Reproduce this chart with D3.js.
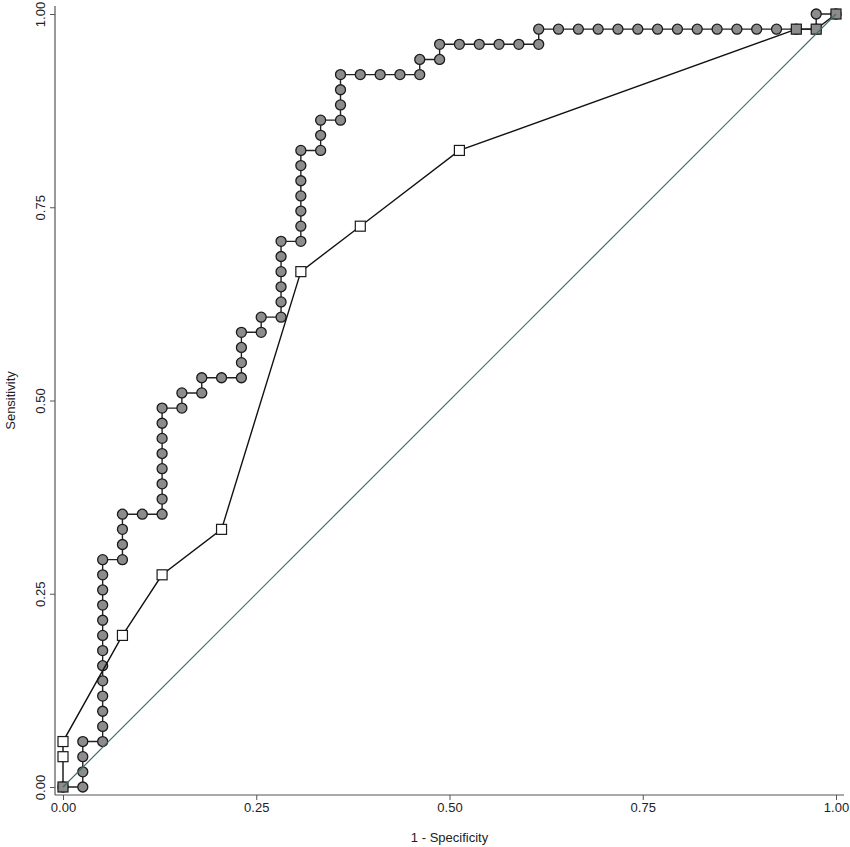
<!DOCTYPE html>
<html>
<head>
<meta charset="utf-8">
<script src="https://cdn.jsdelivr.net/npm/d3@7"></script>
<style>
  body { margin: 0; background: #fff; }
  svg { display: block; font-family: "Liberation Sans", Arial, sans-serif; }
</style>
</head>
<body>
<div id="chart"></div>
<script>
// ROC curve 1: stepwise empirical curve (grey circles)
const stepFpr = [
  0, .0256, .0256, .0256, .0256,
  .0513, .0513, .0513, .0513, .0513, .0513, .0513, .0513, .0513, .0513, .0513, .0513, .0513,
  .0769, .0769, .0769, .0769, .1026,
  .1282, .1282, .1282, .1282, .1282, .1282, .1282, .1282,
  .1538, .1538, .1795, .1795, .2051,
  .2308, .2308, .2308, .2308, .2564, .2564,
  .2821, .2821, .2821, .2821, .2821, .2821,
  .3077, .3077, .3077, .3077, .3077, .3077, .3077,
  .3333, .3333, .3333, .3590, .3590, .3590, .3590,
  .3846, .4103, .4359, .4615, .4615, .4872, .4872,
  .5128, .5385, .5641, .5897, .6154, .6154,
  .6410, .6667, .6923, .7179, .7436, .7692, .7949, .8205, .8462, .8718, .8974, .9231, .9487,
  .9744, .9744, 1
];
const stepTpr = [
  0, 0, .0196, .0392, .0588,
  .0588, .0784, .0980, .1176, .1373, .1569, .1765, .1961, .2157, .2353, .2549, .2745, .2941,
  .2941, .3137, .3333, .3529, .3529,
  .3529, .3725, .3922, .4118, .4314, .4510, .4706, .4902,
  .4902, .5098, .5098, .5294, .5294,
  .5294, .5490, .5686, .5882, .5882, .6078,
  .6078, .6275, .6471, .6667, .6863, .7059,
  .7059, .7255, .7451, .7647, .7843, .8039, .8235,
  .8235, .8431, .8627, .8627, .8824, .9020, .9216,
  .9216, .9216, .9216, .9216, .9412, .9412, .9608,
  .9608, .9608, .9608, .9608, .9608, .9804,
  .9804, .9804, .9804, .9804, .9804, .9804, .9804, .9804, .9804, .9804, .9804, .9804, .9804,
  .9804, 1, 1
];

// ROC curve 2: coarse curve (white squares)
const coarseFpr = [0, 0, 0, .0769, .1282, .2051, .3077, .3846, .5128, .9487, .9744, 1];
const coarseTpr = [0, .0392, .0588, .1961, .2745, .3333, .6667, .7255, .8235, .9804, .9804, 1];

const tickValues = [0, 0.25, 0.5, 0.75, 1];
const xTitle = '1 - Specificity';
const yTitle = 'Sensitivity';

const width = 850, height = 847;
const plot = { left: 63, right: 836, top: 14, bottom: 787 };
const pad = 8;

const svg = d3.select('#chart').append('svg')
    .attr('width', width)
    .attr('height', height);

const x = d3.scaleLinear().domain([0, 1]).range([plot.left, plot.right]);
const y = d3.scaleLinear().domain([0, 1]).range([plot.bottom, plot.top]);

const stepPts = stepFpr.map((v, i) => [v, stepTpr[i]]);
const coarsePts = coarseFpr.map((v, i) => [v, coarseTpr[i]]);

// axes
const axisColor = '#555';
const xAxis = svg.append('g')
    .attr('transform', `translate(0,${plot.bottom + pad})`)
    .call(d3.axisBottom(x).tickValues(tickValues).tickFormat(d3.format('.2f')).tickSize(5).tickSizeOuter(0));
xAxis.select('.domain').attr('d', `M${plot.left - pad},0H${plot.right + pad}`);

const yAxis = svg.append('g')
    .attr('transform', `translate(${plot.left - pad},0)`)
    .call(d3.axisLeft(y).tickValues(tickValues).tickFormat(d3.format('.2f')).tickSize(5).tickSizeOuter(0));
yAxis.select('.domain').attr('d', `M0,${plot.top - pad}V${plot.bottom + pad}`);

svg.selectAll('.domain').attr('stroke', axisColor).attr('stroke-width', 1.2);
svg.selectAll('.tick line').attr('stroke', axisColor).attr('stroke-width', 1);
svg.selectAll('.tick text')
    .attr('fill', '#222')
    .style('font-size', '13px')
    .style('font-family', '"Liberation Sans", Arial, sans-serif');
xAxis.selectAll('.tick text').attr('y', 8).attr('dy', '0.71em');
yAxis.selectAll('.tick text')
    .attr('x', null).attr('dy', null)
    .attr('text-anchor', 'middle')
    .attr('transform', 'translate(-10,0) rotate(-90)');

// axis titles
svg.append('text')
    .attr('x', (plot.left + plot.right) / 2)
    .attr('y', 842)
    .attr('text-anchor', 'middle')
    .style('font-size', '13px')
    .style('fill', '#222')
    .text(xTitle);
svg.append('text')
    .attr('transform', `translate(15,${(plot.top + plot.bottom) / 2}) rotate(-90)`)
    .attr('text-anchor', 'middle')
    .style('font-size', '13px')
    .style('fill', '#222')
    .text(yTitle);

const line = d3.line().x(d => x(d[0])).y(d => y(d[1]));

// stepwise curve
svg.append('path')
    .datum(stepPts)
    .attr('fill', 'none')
    .attr('stroke', '#222')
    .attr('stroke-width', 1.4)
    .attr('d', line);

svg.append('g').selectAll('circle')
    .data(stepPts)
    .join('circle')
    .attr('cx', d => x(d[0]))
    .attr('cy', d => y(d[1]))
    .attr('r', 5)
    .attr('fill', '#8c8c8c')
    .attr('stroke', '#1a1a1a')
    .attr('stroke-width', 1.3);

// coarse curve
svg.append('path')
    .datum(coarsePts)
    .attr('fill', 'none')
    .attr('stroke', '#111')
    .attr('stroke-width', 1.4)
    .attr('d', line);

// squares that sit on a circle look grey
const onStep = d => stepPts.some(p => p[0] === d[0] && p[1] === d[1]);
const sq = 10;
svg.append('g').selectAll('rect')
    .data(coarsePts)
    .join('rect')
    .attr('x', d => x(d[0]) - sq / 2)
    .attr('y', d => y(d[1]) - sq / 2)
    .attr('width', sq)
    .attr('height', sq)
    .attr('fill', d => onStep(d) ? '#8c8c8c' : '#fff')
    .attr('stroke', '#1a1a1a')
    .attr('stroke-width', 1.2);

// reference diagonal
svg.append('line')
    .attr('x1', x(0)).attr('y1', y(0))
    .attr('x2', x(1)).attr('y2', y(1))
    .attr('stroke', '#3f6f68')
    .attr('stroke-width', 1.2);
</script>
</body>
</html>
